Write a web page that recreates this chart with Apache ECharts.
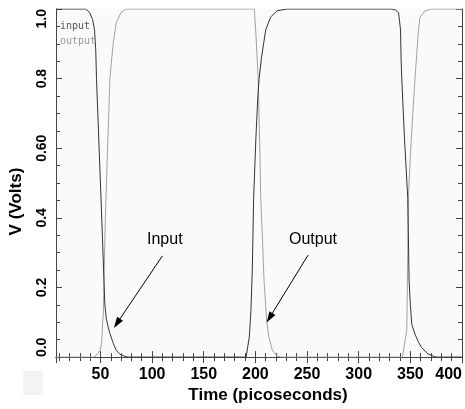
<!DOCTYPE html>
<html>
<head>
<meta charset="utf-8">
<script src="https://cdn.jsdelivr.net/npm/echarts@6/dist/echarts.min.js"></script>
<style>
  html, body { margin: 0; padding: 0; background: #ffffff; }
  #chart { width: 465px; height: 409px; }
</style>
</head>
<body>
<div id="chart"></div>
<script>
// Transient simulation: input and output node voltages (V) versus time (ps)
const inputTime = [
  7, 35.7, 39.5, 42.4, 44.3, 45.5, 46.2, 48.1, 50.0, 51.9, 53.3, 54.3, 55.7, 57.6, 59.5, 62.4, 65.2, 69.0, 72.9, 76.7,
  191.0, 192.6, 194.1, 195.7, 197.0, 198.3, 200.5, 202.4, 203.6, 205.9, 210.0, 214.8, 221.1, 230.7,
  332.2, 335.7, 338.6, 340.5, 341.1, 341.7, 344.3, 347.5, 348.8, 350.0, 351.4, 354.5, 357.6, 360.7, 367.1, 371.9, 374.8, 400
];
const inputVolt = [
  1, 1, 0.99, 0.97, 0.94, 0.88, 0.80, 0.65, 0.50, 0.35, 0.23, 0.15, 0.11, 0.085, 0.065, 0.04, 0.02, 0.008, 0.003, 0,
  0, 0.03, 0.057, 0.134, 0.25, 0.456, 0.63, 0.75, 0.8, 0.86, 0.94, 0.977, 0.995, 1,
  1, 0.997, 0.989, 0.94, 0.85, 0.8, 0.63, 0.456, 0.219, 0.15, 0.094, 0.066, 0.045, 0.028, 0.009, 0.003, 0, 0
];
const outputTime = [
  7, 43.3, 46.2, 49.7, 51.2, 52.2, 52.9, 53.5, 54.8, 56.7, 59.2, 61.0, 62.4, 65.2, 70.0, 74.8,
  198.9, 200.5, 202.1, 202.7, 204.3, 205.2, 206.7, 208.4, 211.0, 213.1, 216.4, 221.1, 224.3,
  342.4, 344.3, 346.5, 347.1, 348.1, 350.0, 352.4, 354.5, 356.2, 357.6, 359.2, 364.0, 370.3, 400
];
const outputVolt = [
  0, 0, 0.005, 0.02, 0.04, 0.1, 0.13, 0.23, 0.4, 0.58, 0.8, 0.86, 0.90, 0.96, 0.99, 1,
  1, 0.93, 0.835, 0.8, 0.6, 0.456, 0.35, 0.219, 0.1, 0.057, 0.02, 0.003, 0,
  0, 0.003, 0.077, 0.2, 0.456, 0.58, 0.7, 0.8, 0.87, 0.93, 0.976, 0.994, 1, 1
];

const seriesNames = ['input', 'output'];
const timeMin = 7;
const timeMax = 400;
const timeStep = 50;
const voltTickLabels = ['0.0', '0.2', '0.4', '0.60', '0.8', '1.0'];

// Callouts: label text, arrow tail and arrow head (time ps, volts)
const noteText = ['Input', 'Output'];
const noteFrom = [[110.0, 0.291], [251.0, 0.293]];
const noteTo = [[66.0, 0.097], [213.7, 0.113]];

const zip = (xs, ys) => xs.map((x, i) => [x, ys[i]]);

const boldFont = 'Liberation Sans, Arial, Helvetica, sans-serif';
const axisGray = '#444';

function timeAxis(position, showLabels) {
  return {
    type: 'value',
    position: position,
    min: timeMin,
    max: timeMax,
    splitNumber: 8,
    minInterval: timeStep,
    maxInterval: timeStep,
    axisLine: { show: true, lineStyle: { color: axisGray, width: 1 } },
    axisTick: { show: true, inside: true, length: 6, lineStyle: { color: axisGray } },
    minorTick: { show: true, splitNumber: 5, length: 4, lineStyle: { color: axisGray } },
    splitLine: { show: false },
    axisLabel: {
      show: showLabels,
      showMinLabel: false,
      alignMaxLabel: 'right',
      margin: 9,
      color: '#000',
      fontFamily: boldFont,
      fontWeight: 'bold',
      fontSize: 16
    },
    name: showLabels ? 'Time (picoseconds)' : '',
    nameLocation: 'middle',
    nameGap: 28,
    nameTextStyle: {
      color: '#000', fontFamily: boldFont, fontWeight: 'bold', fontSize: 17,
      padding: [0, 0, 0, 18]
    }
  };
}

function voltAxis(position, showLabels) {
  return {
    type: 'value',
    position: position,
    min: 0,
    max: 1,
    interval: 0.2,
    axisLine: { show: true, lineStyle: { color: axisGray, width: 1 } },
    axisTick: { show: true, inside: true, length: 6, lineStyle: { color: axisGray } },
    minorTick: { show: true, splitNumber: 4, length: 4, lineStyle: { color: axisGray } },
    splitLine: { show: false },
    axisLabel: {
      show: showLabels,
      rotate: 90,
      margin: 7,
      alignMinLabel: 'left',
      alignMaxLabel: 'right',
      color: '#000',
      fontFamily: boldFont,
      fontWeight: 'bold',
      fontSize: 14,
      formatter: v => voltTickLabels[Math.round(v / 0.2)]
    },
    name: showLabels ? 'V (Volts)' : '',
    nameLocation: 'middle',
    nameGap: 31,
    nameTextStyle: {
      color: '#000', fontFamily: boldFont, fontWeight: 'bold', fontSize: 17,
      padding: [0, 37, 0, 0]
    }
  };
}

function arrow(i) {
  return {
    silent: true,
    symbol: ['none', 'triangle'],
    symbolSize: [7, 11],
    lineStyle: { color: '#000', width: 1, type: 'solid' },
    label: { show: false },
    emphasis: { disabled: true },
    data: [[{ coord: noteFrom[i] }, { coord: noteTo[i] }]]
  };
}

const chart = echarts.init(document.getElementById('chart'), null, { renderer: 'canvas' });

chart.setOption({
  animation: false,
  backgroundColor: '#ffffff',
  grid: {
    left: 52, right: 1, top: 9, bottom: 49,
    show: true, backgroundColor: '#fafafa', borderWidth: 0
  },
  legend: {
    orient: 'vertical',
    left: 50,
    top: 16,
    icon: 'none',
    itemWidth: 0,
    itemHeight: 0,
    itemGap: 5,
    selectedMode: false,
    textStyle: { fontFamily: 'DejaVu Sans Mono, monospace', fontSize: 10 },
    data: [
      { name: seriesNames[0], textStyle: { color: '#555' } },
      { name: seriesNames[1], textStyle: { color: '#999' } }
    ]
  },
  xAxis: [timeAxis('bottom', true), timeAxis('top', false)],
  yAxis: [voltAxis('left', true), voltAxis('right', false)],
  graphic: [
    { type: 'rect', left: 23, top: 371, shape: { width: 20, height: 24 }, style: { fill: '#f3f3f3' }, silent: true },
    { type: 'text', left: 147, top: 232, style: { text: noteText[0], fill: '#000', font: '16px Liberation Sans, Arial, sans-serif' }, silent: true },
    { type: 'text', left: 289, top: 232, style: { text: noteText[1], fill: '#000', font: '16px Liberation Sans, Arial, sans-serif' }, silent: true }
  ],
  series: [
    {
      type: 'line',
      name: seriesNames[0],
      data: zip(inputTime, inputVolt),
      symbol: 'none',
      showSymbol: false,
      lineStyle: { color: '#333', width: 1 },
      itemStyle: { color: '#333' },
      markLine: arrow(0),
      z: 3
    },
    {
      type: 'line',
      name: seriesNames[1],
      data: zip(outputTime, outputVolt),
      symbol: 'none',
      showSymbol: false,
      lineStyle: { color: '#a0a0a0', width: 1 },
      itemStyle: { color: '#a0a0a0' },
      markLine: arrow(1),
      z: 2
    }
  ]
});
</script>
</body>
</html>
